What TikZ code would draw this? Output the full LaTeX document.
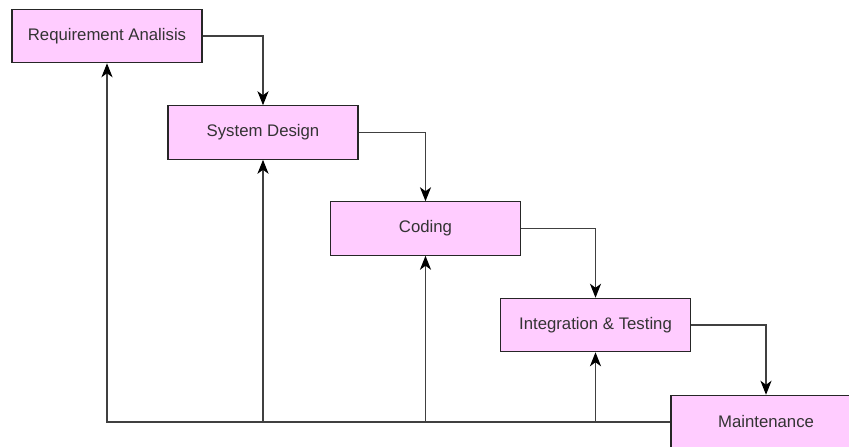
\documentclass[tikz,border=0pt]{standalone}
\usepackage{fontspec}
\setmainfont{Liberation Sans}
\usetikzlibrary{arrows.meta}
\definecolor{phasepink}{HTML}{FFCCFF}

\begin{document}
\begin{tikzpicture}[x=0.03cm, y=-0.03cm,
    phase/.style={rectangle, draw=black!85, fill=phasepink, line width=1pt,
      minimum width=5.7cm, minimum height=1.6cm, inner sep=0pt,
      font=\fontsize{14.3}{16}\selectfont, text=black!80},
    flow/.style={-{Stealth[length=12pt, width=9.5pt, inset=3.5pt, black]}, draw=black!75, line width=1pt}]

  \useasboundingbox (0,0) rectangle (849,446);

  % phases
  \node[phase] (req) at (107,36) {Requirement Analisis};
  \node[phase] (design) at (263,132.5) {System Design};
  \node[phase] (coding) at (425.5,228.5) {Coding};
  \node[phase] (test) at (595.5,325) {Integration \& Testing};
  \node[phase] (maint) at (766,422) {Maintenance};

  % forward flow
  \draw[flow] (req.east) -| (design.north);
  \draw[flow] (design.east) -| (coding.north);
  \draw[flow] (coding.east) -| (test.north);
  \draw[flow] (test.east) -| (maint.north);

  % feedback
  \draw[flow] (maint.west) -| (req.south);
  \draw[flow] (maint.west -| design.south) -- (design.south);
  \draw[flow] (maint.west -| coding.south) -- (coding.south);
  \draw[flow] (maint.west -| test.south) -- (test.south);
\end{tikzpicture}
\end{document}
